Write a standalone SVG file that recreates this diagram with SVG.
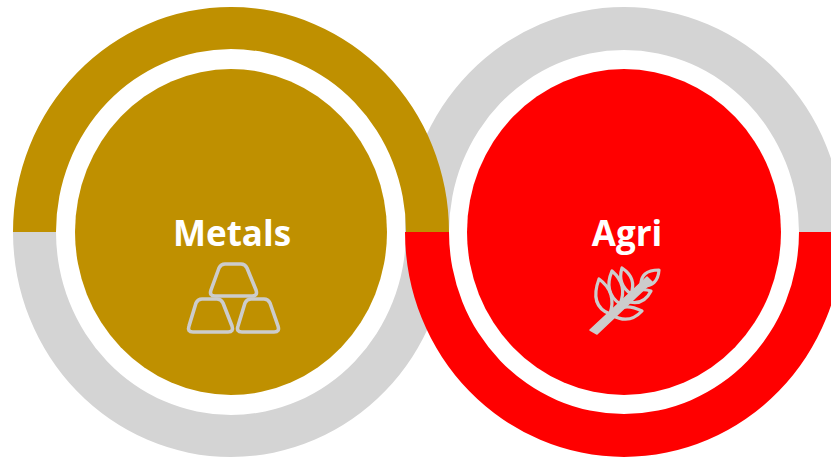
<svg xmlns="http://www.w3.org/2000/svg" width="831" height="459" viewBox="0 0 831 459">
  <style>
    .gold { fill: #BF9000; }
    .grey { fill: #D4D4D4; }
    .red { fill: #FF0000; }
    .label { font-family: "Open Sans", "Liberation Sans", sans-serif; font-weight: 700; font-size: 35px; fill: #FFFFFF; text-anchor: middle; }
    .icon { fill: none; stroke: #CCCCCC; stroke-width: 3.6; stroke-linejoin: round; stroke-linecap: round; }
    .leaf { fill: none; stroke: #CCCCCC; stroke-width: 3.2; stroke-linejoin: round; stroke-linecap: round; }
  </style>
  <rect width="831" height="459" fill="#FFFFFF"/>
  <g id="rings">
    <path class="grey" d="M405,232 A219,225 0 0 1 843,232 L799,232 A175,182 0 0 0 449,232 Z"/>
    <path class="gold" d="M13,232 A218,225 0 0 1 449,232 L406,232 A175,183 0 0 0 56,232 Z"/>
    <path class="grey" d="M13,232 A218,225 0 0 0 449,232 L406,232 A175,183 0 0 1 56,232 Z"/>
    <path class="red" d="M405,232 A219,225 0 0 0 843,232 L799,232 A175,182 0 0 1 449,232 Z"/>
  </g>
  <g id="node-metals">
    <ellipse class="gold" cx="231" cy="232" rx="156" ry="163"/>
    <text class="label" x="232" y="246">Metals</text>
    <g id="icon-gold-bars">
      <path class="icon" d="M225,264 L241,264 Q245,264 247,268 L256,290 Q258,296 252,296 L215,296 Q209,296 211,290 L219,268 Q221,264 225,264 Z"/>
      <path class="icon" d="M202,299 L217,299 Q221,299 223,303 L232,326 Q234,332 228,332 L193,332 Q187,332 189,326 L196,303 Q198,299 202,299 Z"/>
      <path class="icon" d="M251,299 L264,299 Q268,299 270,303 L278,326 Q280,332 274,332 L242,332 Q236,332 238,326 L245,303 Q247,299 251,299 Z"/>
    </g>
  </g>
  <g id="node-agri">
    <ellipse class="red" cx="624" cy="232" rx="157" ry="163"/>
    <text class="label" x="627" y="246">Agri</text>
    <g id="icon-wheat">
      <path d="M590,330 L597,334 L652,282 L647,277 Z" fill="#CCCCCC" stroke="#CCCCCC" stroke-width="1.5" stroke-linejoin="round"/>
      <path class="leaf" d="M610,314 Q589,306 599,279 Q617,292 610,314 Z"/>
      <path class="leaf" d="M620,304 Q603,292 612,271 Q628,285 620,304 Z"/>
      <path class="leaf" d="M631,294 Q617,284 622,268 Q637,278 631,294 Z"/>
      <path class="leaf" d="M641,286 Q640,270 659,270 Q658,287 641,286 Z"/>
      <path class="leaf" d="M626,301 Q634,286 651,291 Q643,307 626,301 Z"/>
      <path class="leaf" d="M612,315 Q622,301 642,311 Q629,325 612,315 Z"/>
    </g>
  </g>
  <g id="connectors"/>
</svg>
